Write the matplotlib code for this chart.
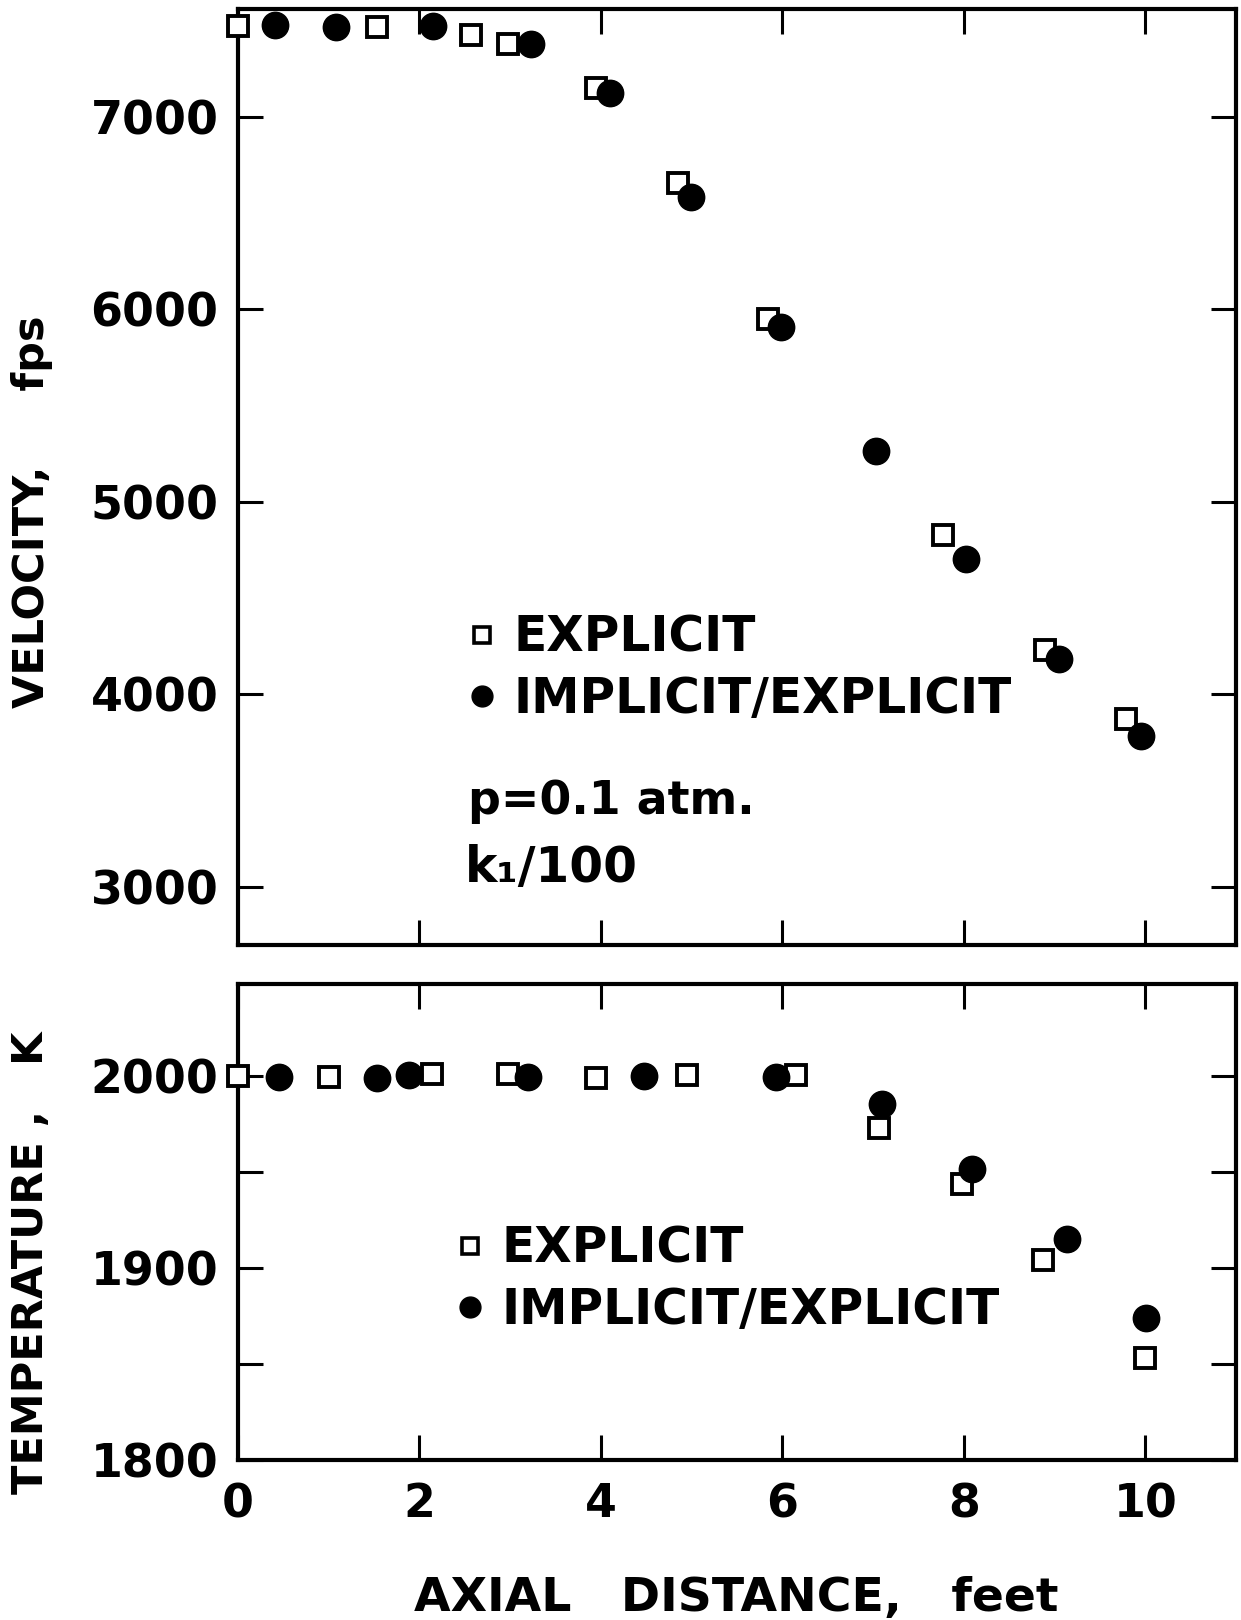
import numpy as np
import matplotlib
matplotlib.use("Agg")
import matplotlib.pyplot as plt
from matplotlib.lines import Line2D

plt.rcParams['font.family'] = ['DejaVu Sans']
plt.rcParams['font.weight'] = 'bold'

# velocity panel
vel_exp_x = [0.0, 1.53, 2.57, 2.98, 3.95, 4.85, 5.84, 7.77, 8.90, 9.79]
vel_exp_y = [7473, 7470, 7425, 7382, 7150, 6656, 5952, 4828, 4231, 3871]
vel_imp_x = [0.41, 1.08, 2.15, 3.23, 4.10, 4.99, 5.98, 7.03, 8.02, 9.05, 9.95]
vel_imp_y = [7476, 7468, 7473, 7382, 7124, 6586, 5909, 5263, 4704, 4183, 3785]

# temperature panel
tmp_exp_x = [0.0, 1.00, 2.14, 2.98, 3.95, 4.95, 6.15, 7.06, 7.98, 8.87, 10.0]
tmp_exp_y = [2000, 1999.5, 2001, 2001, 1999, 2000.5, 2000.5, 1973, 1943.5, 1904, 1853]
tmp_imp_x = [0.45, 1.53, 1.89, 3.20, 4.47, 5.93, 7.10, 8.09, 9.14, 10.01]
tmp_imp_y = [1999.5, 1999, 2000.5, 1999.5, 2000, 1999.5, 1985.5, 1951.5, 1915, 1874]

x_ticks = [0, 2, 4, 6, 8, 10]
vel_ticks = [3000, 4000, 5000, 6000, 7000]
tmp_ticks = [1800, 1850, 1900, 1950, 2000]
tmp_labels = ['1800', '', '1900', '', '2000']

W, H = 1241, 1620
fig = plt.figure(figsize=(W / 100, H / 100), dpi=100)

ax1 = fig.add_axes([238 / W, 1 - 945.5 / H, 998 / W, 937 / H])
ax2 = fig.add_axes([238 / W, 1 - 1460 / H, 998 / W, 476.3 / H])

sq = dict(marker='s', ms=14.5, mfc='white', mec='black', mew=2.8, ls='none')
dot = dict(marker='o', ms=19, mfc='black', mec='black', ls='none')


def style_axes(ax):
    for s in ax.spines.values():
        s.set_linewidth(3)
    ax.tick_params(which='both', direction='in', length=18, width=2.2,
                   top=True, right=True, labelsize=33, pad=14)
    ax.set_xlim(0, 11)


# --- velocity
ax1.plot(vel_exp_x, vel_exp_y, **sq, clip_on=False, zorder=3)
ax1.plot(vel_imp_x, vel_imp_y, **dot, clip_on=False, zorder=4)
style_axes(ax1)
ax1.set_ylim(2694, 7564)
ax1.set_yticks(vel_ticks)
ax1.set_xticks(x_ticks[1:])
ax1.tick_params(labelbottom=False)

# --- temperature
ax2.plot(tmp_exp_x, tmp_exp_y, **sq, clip_on=False, zorder=3)
ax2.plot(tmp_imp_x, tmp_imp_y, **dot, clip_on=False, zorder=4)
style_axes(ax2)
ax2.set_ylim(1800, 2048)
ax2.set_yticks(tmp_ticks)
ax2.set_yticklabels(tmp_labels)
ax2.set_xticks(x_ticks)
ax2.tick_params(axis='x', pad=16)

handles = [Line2D([], [], marker='s', ms=12, mfc='white', mec='black', mew=2.6, ls='none'),
           Line2D([], [], marker='o', ms=15, mfc='black', mec='black', ls='none')]
labels = ['EXPLICIT', 'IMPLICIT/EXPLICIT']
leg_kw = dict(frameon=False, fontsize=35, handlelength=0.5, handletextpad=0.4,
              labelspacing=0.28, borderpad=0, borderaxespad=0, loc='upper left')
ax1.legend(handles, labels, bbox_to_anchor=(0.2325, 0.354), **leg_kw)
ax2.legend(handles, labels, bbox_to_anchor=(0.2204, 0.494), **leg_kw)

ax1.text(0.2305, 0.154, 'p=0.1 atm.', transform=ax1.transAxes, fontsize=33, va='center')
ax1.text(0.2275, 0.0825, 'k\u2081/100', transform=ax1.transAxes, fontsize=35, va='center')

fig.text(0.026, 0.684, 'VELOCITY,     fps', rotation=90, fontsize=31, ha='center', va='center')
fig.text(0.025, 0.2206, 'TEMPERATURE ,   K', rotation=90, fontsize=31, ha='center', va='center')
fig.text(0.593, 0.0135, 'AXIAL   DISTANCE,   feet', fontsize=34, ha='center', va='center')

fig.savefig('out.png', dpi=100)
